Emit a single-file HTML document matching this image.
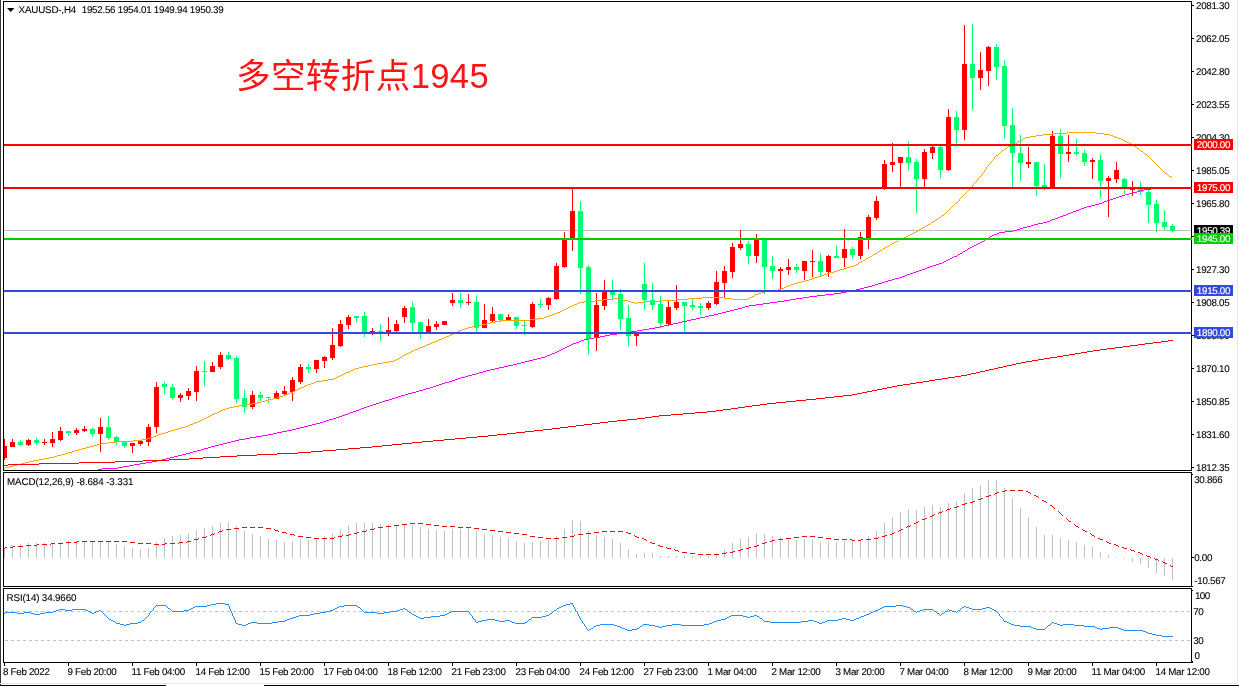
<!DOCTYPE html>
<html><head><meta charset="utf-8"><title>XAUUSD H4</title>
<style>
html,body{margin:0;padding:0;background:#fff}
#c{position:relative;width:1239px;height:686px;overflow:hidden;background:#fff;font-family:"Liberation Sans","Noto Sans CJK SC",sans-serif}
svg{position:absolute;left:0;top:0}
.t{position:absolute;font-size:9.8px;letter-spacing:-0.3px;line-height:11px;color:#000;-webkit-text-stroke:0.1px #000;white-space:pre;text-rendering:geometricPrecision}
.b{position:absolute;left:1194px;width:39px;height:10px;padding-top:1px;font-size:9.8px;letter-spacing:-0.3px;line-height:11px;color:#fff;-webkit-text-stroke:0.15px #fff;text-align:center;white-space:pre;text-rendering:geometricPrecision;overflow:hidden}
#title{position:absolute;left:236px;top:51px;font-size:34.6px;letter-spacing:0.35px;line-height:50px;color:#ff1414;font-weight:400;white-space:pre}
</style></head><body>
<div id="c">
<svg width="1239" height="686" viewBox="0 0 1239 686" shape-rendering="crispEdges">
<defs><clipPath id="cm"><rect x="4" y="2" width="1187" height="468"/></clipPath></defs>
<rect x="0" y="0" width="1" height="686" fill="#3a3a3a"/>
<rect x="3" y="1" width="1189" height="1" fill="#000"/>
<rect x="3" y="1" width="1" height="662" fill="#000"/>
<rect x="1191" y="1" width="1" height="662" fill="#000"/>
<rect x="3" y="470" width="1189" height="1" fill="#000"/>
<rect x="3" y="472" width="1189" height="1" fill="#000"/>
<rect x="3" y="586" width="1189" height="1" fill="#000"/>
<rect x="3" y="588" width="1189" height="1" fill="#000"/>
<rect x="3" y="662" width="1190" height="1" fill="#000"/>
<rect x="1237" y="0" width="1" height="684" fill="#e6e6e6"/>
<rect x="0" y="683" width="1238" height="1" fill="#e6e6e6"/>
<rect x="0" y="685" width="166" height="1" fill="#000"/>
<rect x="264" y="685" width="975" height="1" fill="#000"/>
<rect x="0" y="471" width="1192" height="1" fill="#fff"/>
<rect x="0" y="587" width="1192" height="1" fill="#fff"/>
<rect x="0" y="471" width="1" height="1" fill="#3a3a3a"/>
<rect x="0" y="587" width="1" height="1" fill="#3a3a3a"/>
<rect x="3" y="471" width="1" height="1" fill="#fff"/>
<rect x="3" y="587" width="1" height="1" fill="#fff"/>
<rect x="4" y="230" width="1187" height="1" fill="#c0c0c0"/>
<g clip-path="url(#cm)">
<rect x="4" y="439" width="1" height="21" fill="#ff0000"/>
<rect x="2" y="446" width="5" height="12" fill="#ff0000"/>
<rect x="12" y="439" width="1" height="8" fill="#ff0000"/>
<rect x="10" y="442" width="5" height="5" fill="#ff0000"/>
<rect x="20" y="440" width="1" height="6" fill="#00ff6e"/>
<rect x="18" y="442" width="5" height="3" fill="#00ff6e"/>
<rect x="28" y="439" width="1" height="7" fill="#ff0000"/>
<rect x="26" y="440" width="5" height="5" fill="#ff0000"/>
<rect x="36" y="438" width="1" height="7" fill="#00ff6e"/>
<rect x="34" y="440" width="5" height="3" fill="#00ff6e"/>
<rect x="44" y="439" width="1" height="6" fill="#ff0000"/>
<rect x="42" y="442" width="5" height="1" fill="#ff0000"/>
<rect x="52" y="432" width="1" height="15" fill="#ff0000"/>
<rect x="50" y="439" width="5" height="4" fill="#ff0000"/>
<rect x="60" y="427" width="1" height="14" fill="#ff0000"/>
<rect x="58" y="431" width="5" height="9" fill="#ff0000"/>
<rect x="68" y="431" width="1" height="5" fill="#00ff6e"/>
<rect x="66" y="431" width="5" height="2" fill="#00ff6e"/>
<rect x="76" y="428" width="1" height="7" fill="#ff0000"/>
<rect x="74" y="430" width="5" height="3" fill="#ff0000"/>
<rect x="84" y="426" width="1" height="6" fill="#ff0000"/>
<rect x="82" y="429" width="5" height="2" fill="#ff0000"/>
<rect x="92" y="428" width="1" height="9" fill="#00ff6e"/>
<rect x="90" y="429" width="5" height="5" fill="#00ff6e"/>
<rect x="100" y="418" width="1" height="34" fill="#ff0000"/>
<rect x="98" y="427" width="5" height="7" fill="#ff0000"/>
<rect x="108" y="416" width="1" height="24" fill="#00ff6e"/>
<rect x="106" y="427" width="5" height="11" fill="#00ff6e"/>
<rect x="116" y="436" width="1" height="9" fill="#00ff6e"/>
<rect x="114" y="437" width="5" height="5" fill="#00ff6e"/>
<rect x="124" y="442" width="1" height="6" fill="#00ff6e"/>
<rect x="122" y="442" width="5" height="4" fill="#00ff6e"/>
<rect x="132" y="443" width="1" height="10" fill="#ff0000"/>
<rect x="130" y="443" width="5" height="3" fill="#ff0000"/>
<rect x="140" y="441" width="1" height="5" fill="#ff0000"/>
<rect x="138" y="441" width="5" height="3" fill="#ff0000"/>
<rect x="148" y="424" width="1" height="22" fill="#ff0000"/>
<rect x="146" y="427" width="5" height="15" fill="#ff0000"/>
<rect x="156" y="382" width="1" height="51" fill="#ff0000"/>
<rect x="154" y="387" width="5" height="40" fill="#ff0000"/>
<rect x="164" y="382" width="1" height="12" fill="#00ff6e"/>
<rect x="162" y="384" width="5" height="3" fill="#00ff6e"/>
<rect x="172" y="384" width="1" height="16" fill="#00ff6e"/>
<rect x="170" y="387" width="5" height="11" fill="#00ff6e"/>
<rect x="180" y="393" width="1" height="9" fill="#ff0000"/>
<rect x="178" y="395" width="5" height="3" fill="#ff0000"/>
<rect x="188" y="388" width="1" height="12" fill="#ff0000"/>
<rect x="186" y="391" width="5" height="5" fill="#ff0000"/>
<rect x="196" y="366" width="1" height="35" fill="#ff0000"/>
<rect x="194" y="371" width="5" height="21" fill="#ff0000"/>
<rect x="204" y="361" width="1" height="25" fill="#00ff6e"/>
<rect x="202" y="371" width="5" height="1" fill="#00ff6e"/>
<rect x="212" y="362" width="1" height="10" fill="#ff0000"/>
<rect x="210" y="366" width="5" height="6" fill="#ff0000"/>
<rect x="220" y="352" width="1" height="17" fill="#ff0000"/>
<rect x="218" y="355" width="5" height="12" fill="#ff0000"/>
<rect x="228" y="352" width="1" height="8" fill="#00ff6e"/>
<rect x="226" y="355" width="5" height="4" fill="#00ff6e"/>
<rect x="236" y="356" width="1" height="47" fill="#00ff6e"/>
<rect x="234" y="358" width="5" height="41" fill="#00ff6e"/>
<rect x="244" y="390" width="1" height="23" fill="#00ff6e"/>
<rect x="242" y="398" width="5" height="9" fill="#00ff6e"/>
<rect x="252" y="391" width="1" height="18" fill="#ff0000"/>
<rect x="250" y="395" width="5" height="12" fill="#ff0000"/>
<rect x="260" y="392" width="1" height="9" fill="#00ff6e"/>
<rect x="258" y="395" width="5" height="3" fill="#00ff6e"/>
<rect x="268" y="397" width="1" height="6" fill="#00ff6e"/>
<rect x="266" y="397" width="5" height="1" fill="#00ff6e"/>
<rect x="276" y="391" width="1" height="8" fill="#ff0000"/>
<rect x="274" y="393" width="5" height="6" fill="#ff0000"/>
<rect x="284" y="386" width="1" height="10" fill="#ff0000"/>
<rect x="282" y="391" width="5" height="3" fill="#ff0000"/>
<rect x="292" y="377" width="1" height="24" fill="#ff0000"/>
<rect x="290" y="380" width="5" height="12" fill="#ff0000"/>
<rect x="300" y="364" width="1" height="20" fill="#ff0000"/>
<rect x="298" y="367" width="5" height="15" fill="#ff0000"/>
<rect x="308" y="364" width="1" height="9" fill="#00ff6e"/>
<rect x="306" y="367" width="5" height="2" fill="#00ff6e"/>
<rect x="316" y="360" width="1" height="13" fill="#ff0000"/>
<rect x="314" y="360" width="5" height="9" fill="#ff0000"/>
<rect x="324" y="356" width="1" height="12" fill="#ff0000"/>
<rect x="322" y="357" width="5" height="4" fill="#ff0000"/>
<rect x="332" y="328" width="1" height="32" fill="#ff0000"/>
<rect x="330" y="345" width="5" height="13" fill="#ff0000"/>
<rect x="340" y="320" width="1" height="27" fill="#ff0000"/>
<rect x="338" y="324" width="5" height="22" fill="#ff0000"/>
<rect x="348" y="315" width="1" height="14" fill="#ff0000"/>
<rect x="346" y="317" width="5" height="8" fill="#ff0000"/>
<rect x="356" y="316" width="1" height="6" fill="#00ff6e"/>
<rect x="354" y="316" width="5" height="2" fill="#00ff6e"/>
<rect x="364" y="312" width="1" height="25" fill="#00ff6e"/>
<rect x="362" y="316" width="5" height="16" fill="#00ff6e"/>
<rect x="372" y="328" width="1" height="7" fill="#ff0000"/>
<rect x="370" y="331" width="5" height="1" fill="#ff0000"/>
<rect x="380" y="324" width="1" height="17" fill="#00ff6e"/>
<rect x="378" y="331" width="5" height="1" fill="#00ff6e"/>
<rect x="388" y="317" width="1" height="19" fill="#ff0000"/>
<rect x="386" y="330" width="5" height="2" fill="#ff0000"/>
<rect x="396" y="320" width="1" height="12" fill="#ff0000"/>
<rect x="394" y="324" width="5" height="7" fill="#ff0000"/>
<rect x="404" y="306" width="1" height="17" fill="#ff0000"/>
<rect x="402" y="308" width="5" height="9" fill="#ff0000"/>
<rect x="412" y="302" width="1" height="30" fill="#00ff6e"/>
<rect x="410" y="307" width="5" height="16" fill="#00ff6e"/>
<rect x="420" y="322" width="1" height="17" fill="#00ff6e"/>
<rect x="418" y="322" width="5" height="10" fill="#00ff6e"/>
<rect x="428" y="319" width="1" height="13" fill="#ff0000"/>
<rect x="426" y="326" width="5" height="6" fill="#ff0000"/>
<rect x="436" y="321" width="1" height="9" fill="#ff0000"/>
<rect x="434" y="324" width="5" height="3" fill="#ff0000"/>
<rect x="444" y="321" width="1" height="4" fill="#ff0000"/>
<rect x="442" y="321" width="5" height="4" fill="#ff0000"/>
<rect x="452" y="293" width="1" height="13" fill="#ff0000"/>
<rect x="450" y="300" width="5" height="3" fill="#ff0000"/>
<rect x="460" y="293" width="1" height="15" fill="#00ff6e"/>
<rect x="458" y="300" width="5" height="3" fill="#00ff6e"/>
<rect x="468" y="294" width="1" height="11" fill="#ff0000"/>
<rect x="466" y="302" width="5" height="1" fill="#ff0000"/>
<rect x="476" y="296" width="1" height="36" fill="#00ff6e"/>
<rect x="474" y="302" width="5" height="26" fill="#00ff6e"/>
<rect x="484" y="304" width="1" height="24" fill="#ff0000"/>
<rect x="482" y="320" width="5" height="8" fill="#ff0000"/>
<rect x="492" y="307" width="1" height="16" fill="#ff0000"/>
<rect x="490" y="314" width="5" height="7" fill="#ff0000"/>
<rect x="500" y="314" width="1" height="8" fill="#00ff6e"/>
<rect x="498" y="314" width="5" height="6" fill="#00ff6e"/>
<rect x="508" y="314" width="1" height="6" fill="#ff0000"/>
<rect x="506" y="317" width="5" height="3" fill="#ff0000"/>
<rect x="516" y="317" width="1" height="12" fill="#00ff6e"/>
<rect x="514" y="317" width="5" height="9" fill="#00ff6e"/>
<rect x="524" y="321" width="1" height="14" fill="#00ff6e"/>
<rect x="522" y="325" width="5" height="1" fill="#00ff6e"/>
<rect x="532" y="302" width="1" height="26" fill="#ff0000"/>
<rect x="530" y="304" width="5" height="23" fill="#ff0000"/>
<rect x="540" y="299" width="1" height="9" fill="#00ff6e"/>
<rect x="538" y="304" width="5" height="1" fill="#00ff6e"/>
<rect x="548" y="297" width="1" height="13" fill="#ff0000"/>
<rect x="546" y="298" width="5" height="7" fill="#ff0000"/>
<rect x="556" y="263" width="1" height="37" fill="#ff0000"/>
<rect x="554" y="266" width="5" height="33" fill="#ff0000"/>
<rect x="564" y="232" width="1" height="36" fill="#ff0000"/>
<rect x="562" y="239" width="5" height="28" fill="#ff0000"/>
<rect x="572" y="189" width="1" height="62" fill="#ff0000"/>
<rect x="570" y="211" width="5" height="27" fill="#ff0000"/>
<rect x="580" y="201" width="1" height="93" fill="#00ff6e"/>
<rect x="578" y="211" width="5" height="57" fill="#00ff6e"/>
<rect x="588" y="265" width="1" height="90" fill="#00ff6e"/>
<rect x="586" y="267" width="5" height="72" fill="#00ff6e"/>
<rect x="596" y="293" width="1" height="58" fill="#ff0000"/>
<rect x="594" y="305" width="5" height="33" fill="#ff0000"/>
<rect x="604" y="280" width="1" height="30" fill="#ff0000"/>
<rect x="602" y="292" width="5" height="14" fill="#ff0000"/>
<rect x="612" y="280" width="1" height="19" fill="#00ff6e"/>
<rect x="610" y="292" width="5" height="3" fill="#00ff6e"/>
<rect x="620" y="289" width="1" height="41" fill="#00ff6e"/>
<rect x="618" y="294" width="5" height="25" fill="#00ff6e"/>
<rect x="628" y="305" width="1" height="41" fill="#00ff6e"/>
<rect x="626" y="318" width="5" height="18" fill="#00ff6e"/>
<rect x="636" y="333" width="1" height="13" fill="#ff0000"/>
<rect x="634" y="333" width="5" height="3" fill="#ff0000"/>
<rect x="644" y="263" width="1" height="47" fill="#00ff6e"/>
<rect x="642" y="284" width="5" height="16" fill="#00ff6e"/>
<rect x="652" y="283" width="1" height="27" fill="#00ff6e"/>
<rect x="650" y="300" width="5" height="5" fill="#00ff6e"/>
<rect x="660" y="296" width="1" height="32" fill="#00ff6e"/>
<rect x="658" y="304" width="5" height="19" fill="#00ff6e"/>
<rect x="668" y="301" width="1" height="25" fill="#ff0000"/>
<rect x="666" y="307" width="5" height="17" fill="#ff0000"/>
<rect x="676" y="285" width="1" height="25" fill="#ff0000"/>
<rect x="674" y="302" width="5" height="6" fill="#ff0000"/>
<rect x="684" y="302" width="1" height="30" fill="#00ff6e"/>
<rect x="682" y="302" width="5" height="4" fill="#00ff6e"/>
<rect x="692" y="299" width="1" height="11" fill="#00ff6e"/>
<rect x="690" y="305" width="5" height="2" fill="#00ff6e"/>
<rect x="700" y="303" width="1" height="12" fill="#00ff6e"/>
<rect x="698" y="306" width="5" height="2" fill="#00ff6e"/>
<rect x="708" y="301" width="1" height="9" fill="#ff0000"/>
<rect x="706" y="303" width="5" height="5" fill="#ff0000"/>
<rect x="716" y="271" width="1" height="34" fill="#ff0000"/>
<rect x="714" y="282" width="5" height="22" fill="#ff0000"/>
<rect x="724" y="266" width="1" height="31" fill="#ff0000"/>
<rect x="722" y="271" width="5" height="12" fill="#ff0000"/>
<rect x="732" y="243" width="1" height="35" fill="#ff0000"/>
<rect x="730" y="247" width="5" height="25" fill="#ff0000"/>
<rect x="740" y="230" width="1" height="20" fill="#ff0000"/>
<rect x="738" y="244" width="5" height="4" fill="#ff0000"/>
<rect x="748" y="241" width="1" height="23" fill="#00ff6e"/>
<rect x="746" y="244" width="5" height="12" fill="#00ff6e"/>
<rect x="756" y="234" width="1" height="29" fill="#ff0000"/>
<rect x="754" y="239" width="5" height="17" fill="#ff0000"/>
<rect x="764" y="239" width="1" height="55" fill="#00ff6e"/>
<rect x="762" y="239" width="5" height="28" fill="#00ff6e"/>
<rect x="772" y="256" width="1" height="23" fill="#00ff6e"/>
<rect x="770" y="266" width="5" height="5" fill="#00ff6e"/>
<rect x="780" y="267" width="1" height="23" fill="#ff0000"/>
<rect x="778" y="269" width="5" height="2" fill="#ff0000"/>
<rect x="788" y="259" width="1" height="16" fill="#ff0000"/>
<rect x="786" y="267" width="5" height="3" fill="#ff0000"/>
<rect x="796" y="264" width="1" height="9" fill="#00ff6e"/>
<rect x="794" y="267" width="5" height="3" fill="#00ff6e"/>
<rect x="804" y="261" width="1" height="19" fill="#ff0000"/>
<rect x="802" y="261" width="5" height="10" fill="#ff0000"/>
<rect x="812" y="250" width="1" height="27" fill="#ff0000"/>
<rect x="810" y="261" width="5" height="1" fill="#ff0000"/>
<rect x="820" y="253" width="1" height="23" fill="#00ff6e"/>
<rect x="818" y="261" width="5" height="11" fill="#00ff6e"/>
<rect x="828" y="255" width="1" height="22" fill="#ff0000"/>
<rect x="826" y="256" width="5" height="16" fill="#ff0000"/>
<rect x="836" y="246" width="1" height="12" fill="#00ff6e"/>
<rect x="834" y="256" width="5" height="2" fill="#00ff6e"/>
<rect x="844" y="229" width="1" height="38" fill="#ff0000"/>
<rect x="842" y="249" width="5" height="9" fill="#ff0000"/>
<rect x="852" y="247" width="1" height="12" fill="#00ff6e"/>
<rect x="850" y="249" width="5" height="6" fill="#00ff6e"/>
<rect x="860" y="232" width="1" height="27" fill="#ff0000"/>
<rect x="858" y="237" width="5" height="19" fill="#ff0000"/>
<rect x="868" y="215" width="1" height="34" fill="#ff0000"/>
<rect x="866" y="217" width="5" height="21" fill="#ff0000"/>
<rect x="876" y="196" width="1" height="24" fill="#ff0000"/>
<rect x="874" y="201" width="5" height="17" fill="#ff0000"/>
<rect x="884" y="160" width="1" height="30" fill="#ff0000"/>
<rect x="882" y="164" width="5" height="25" fill="#ff0000"/>
<rect x="892" y="143" width="1" height="29" fill="#ff0000"/>
<rect x="890" y="162" width="5" height="3" fill="#ff0000"/>
<rect x="900" y="157" width="1" height="31" fill="#ff0000"/>
<rect x="898" y="157" width="5" height="6" fill="#ff0000"/>
<rect x="908" y="141" width="1" height="29" fill="#00ff6e"/>
<rect x="906" y="157" width="5" height="6" fill="#00ff6e"/>
<rect x="916" y="159" width="1" height="54" fill="#00ff6e"/>
<rect x="914" y="162" width="5" height="17" fill="#00ff6e"/>
<rect x="924" y="149" width="1" height="39" fill="#ff0000"/>
<rect x="922" y="152" width="5" height="27" fill="#ff0000"/>
<rect x="932" y="146" width="1" height="13" fill="#ff0000"/>
<rect x="930" y="147" width="5" height="6" fill="#ff0000"/>
<rect x="940" y="146" width="1" height="32" fill="#00ff6e"/>
<rect x="938" y="147" width="5" height="23" fill="#00ff6e"/>
<rect x="948" y="109" width="1" height="62" fill="#ff0000"/>
<rect x="946" y="117" width="5" height="53" fill="#ff0000"/>
<rect x="956" y="111" width="1" height="36" fill="#00ff6e"/>
<rect x="954" y="117" width="5" height="13" fill="#00ff6e"/>
<rect x="964" y="25" width="1" height="115" fill="#ff0000"/>
<rect x="962" y="64" width="5" height="66" fill="#ff0000"/>
<rect x="972" y="24" width="1" height="86" fill="#00ff6e"/>
<rect x="970" y="64" width="5" height="14" fill="#00ff6e"/>
<rect x="980" y="52" width="1" height="38" fill="#ff0000"/>
<rect x="978" y="70" width="5" height="8" fill="#ff0000"/>
<rect x="988" y="46" width="1" height="40" fill="#ff0000"/>
<rect x="986" y="47" width="5" height="24" fill="#ff0000"/>
<rect x="996" y="44" width="1" height="36" fill="#00ff6e"/>
<rect x="994" y="47" width="5" height="20" fill="#00ff6e"/>
<rect x="1004" y="60" width="1" height="79" fill="#00ff6e"/>
<rect x="1002" y="66" width="5" height="60" fill="#00ff6e"/>
<rect x="1012" y="108" width="1" height="79" fill="#00ff6e"/>
<rect x="1010" y="125" width="5" height="28" fill="#00ff6e"/>
<rect x="1020" y="135" width="1" height="46" fill="#00ff6e"/>
<rect x="1018" y="153" width="5" height="10" fill="#00ff6e"/>
<rect x="1028" y="147" width="1" height="21" fill="#ff0000"/>
<rect x="1026" y="162" width="5" height="2" fill="#ff0000"/>
<rect x="1036" y="162" width="1" height="34" fill="#00ff6e"/>
<rect x="1034" y="162" width="5" height="24" fill="#00ff6e"/>
<rect x="1044" y="164" width="1" height="26" fill="#00ff6e"/>
<rect x="1042" y="185" width="5" height="2" fill="#00ff6e"/>
<rect x="1052" y="131" width="1" height="56" fill="#ff0000"/>
<rect x="1050" y="136" width="5" height="51" fill="#ff0000"/>
<rect x="1060" y="129" width="1" height="49" fill="#00ff6e"/>
<rect x="1058" y="136" width="5" height="18" fill="#00ff6e"/>
<rect x="1068" y="135" width="1" height="27" fill="#ff0000"/>
<rect x="1066" y="152" width="5" height="2" fill="#ff0000"/>
<rect x="1076" y="139" width="1" height="17" fill="#00ff6e"/>
<rect x="1074" y="152" width="5" height="2" fill="#00ff6e"/>
<rect x="1084" y="150" width="1" height="16" fill="#00ff6e"/>
<rect x="1082" y="153" width="5" height="9" fill="#00ff6e"/>
<rect x="1092" y="158" width="1" height="21" fill="#ff0000"/>
<rect x="1090" y="160" width="5" height="2" fill="#ff0000"/>
<rect x="1100" y="154" width="1" height="44" fill="#00ff6e"/>
<rect x="1098" y="160" width="5" height="21" fill="#00ff6e"/>
<rect x="1108" y="176" width="1" height="41" fill="#ff0000"/>
<rect x="1106" y="178" width="5" height="3" fill="#ff0000"/>
<rect x="1116" y="162" width="1" height="21" fill="#ff0000"/>
<rect x="1114" y="170" width="5" height="9" fill="#ff0000"/>
<rect x="1124" y="178" width="1" height="16" fill="#00ff6e"/>
<rect x="1122" y="179" width="5" height="10" fill="#00ff6e"/>
<rect x="1132" y="181" width="1" height="15" fill="#ff0000"/>
<rect x="1130" y="187" width="5" height="3" fill="#ff0000"/>
<rect x="1140" y="182" width="1" height="13" fill="#00ff6e"/>
<rect x="1138" y="188" width="5" height="4" fill="#00ff6e"/>
<rect x="1148" y="190" width="1" height="33" fill="#00ff6e"/>
<rect x="1146" y="192" width="5" height="13" fill="#00ff6e"/>
<rect x="1156" y="200" width="1" height="32" fill="#00ff6e"/>
<rect x="1154" y="204" width="5" height="19" fill="#00ff6e"/>
<rect x="1164" y="210" width="1" height="20" fill="#00ff6e"/>
<rect x="1162" y="222" width="5" height="5" fill="#00ff6e"/>
<rect x="1172" y="224" width="1" height="8" fill="#00ff6e"/>
<rect x="1170" y="226" width="5" height="5" fill="#00ff6e"/>
</g>
<g clip-path="url(#cm)">
<path d="M3 468h2v1h-2zM5 467h4v1h-4zM9 466h4v1h-4zM13 465h4v1h-4zM17 464h4v1h-4zM21 463h4v1h-4zM25 462h4v1h-4zM29 461h5v1h-5zM34 460h5v1h-5zM39 459h5v1h-5zM44 458h5v1h-5zM49 457h5v1h-5zM54 456h3v1h-3zM57 455h4v1h-4zM61 454h4v1h-4zM65 453h3v1h-3zM68 452h4v1h-4zM72 451h3v1h-3zM75 450h4v1h-4zM79 449h3v1h-3zM82 448h4v1h-4zM86 447h4v1h-4zM90 446h3v1h-3zM93 445h4v1h-4zM97 444h4v1h-4zM101 443h7v1h-7zM108 442h9v1h-9zM117 441h16v1h-16zM133 440h9v1h-9zM142 439h5v1h-5zM147 438h3v1h-3zM150 437h3v1h-3zM153 436h3v1h-3zM156 435h2v1h-2zM158 434h3v1h-3zM161 433h4v1h-4zM165 432h3v1h-3zM168 431h3v1h-3zM171 430h4v1h-4zM175 429h3v1h-3zM178 428h3v1h-3zM181 427h4v1h-4zM185 426h3v1h-3zM188 425h2v1h-2zM190 424h3v1h-3zM193 423h2v1h-2zM195 422h3v1h-3zM198 421h2v1h-2zM200 420h2v1h-2zM202 419h2v1h-2zM204 418h2v1h-2zM206 417h2v1h-2zM208 416h2v1h-2zM210 415h2v1h-2zM212 414h2v1h-2zM214 413h3v1h-3zM217 412h2v1h-2zM219 411h2v1h-2zM221 410h2v1h-2zM223 409h3v1h-3zM226 408h3v1h-3zM229 407h5v1h-5zM234 406h5v1h-5zM239 405h6v1h-6zM245 404h7v1h-7zM252 403h5v1h-5zM257 402h4v1h-4zM261 401h4v1h-4zM265 400h4v1h-4zM269 399h4v1h-4zM273 398h4v1h-4zM277 397h3v1h-3zM280 396h3v1h-3zM283 395h2v1h-2zM285 394h3v1h-3zM288 393h2v1h-2zM290 392h3v1h-3zM293 391h2v1h-2zM295 390h2v1h-2zM297 389h2v1h-2zM299 388h2v1h-2zM301 387h3v1h-3zM304 386h2v1h-2zM306 385h2v1h-2zM308 384h3v1h-3zM311 383h3v1h-3zM314 382h2v1h-2zM316 381h6v1h-6zM322 380h6v1h-6zM328 379h6v1h-6zM334 378h2v1h-2zM336 377h2v1h-2zM338 376h2v1h-2zM340 375h2v1h-2zM342 374h2v1h-2zM344 373h2v1h-2zM346 372h3v1h-3zM349 371h2v1h-2zM351 370h2v1h-2zM353 369h2v1h-2zM355 368h4v1h-4zM359 367h4v1h-4zM363 366h5v1h-5zM368 365h4v1h-4zM372 364h5v1h-5zM377 363h6v1h-6zM383 362h6v1h-6zM389 361h5v1h-5zM394 360h2v1h-2zM396 359h2v1h-2zM398 358h2v1h-2zM400 357h2v1h-2zM402 356h1v1h-1zM403 355h2v1h-2zM405 354h2v1h-2zM407 353h2v1h-2zM409 352h2v1h-2zM411 351h2v1h-2zM413 350h2v1h-2zM415 349h3v1h-3zM418 348h2v1h-2zM420 347h3v1h-3zM423 346h2v1h-2zM425 345h2v1h-2zM427 344h3v1h-3zM430 343h2v1h-2zM432 342h3v1h-3zM435 341h2v1h-2zM437 340h2v1h-2zM439 339h3v1h-3zM442 338h2v1h-2zM444 337h2v1h-2zM446 336h3v1h-3zM449 335h2v1h-2zM451 334h2v1h-2zM453 333h2v1h-2zM455 332h2v1h-2zM457 331h2v1h-2zM459 330h3v1h-3zM462 329h3v1h-3zM465 328h3v1h-3zM468 327h4v1h-4zM472 326h4v1h-4zM476 325h5v1h-5zM481 324h5v1h-5zM486 323h4v1h-4zM490 322h5v1h-5zM495 321h5v1h-5zM500 320h30v1h-30zM530 319h7v1h-7zM537 318h7v1h-7zM544 317h2v1h-2zM546 316h3v1h-3zM549 315h3v1h-3zM552 314h3v1h-3zM555 313h2v1h-2zM557 312h3v1h-3zM560 311h2v1h-2zM562 310h2v1h-2zM564 309h2v1h-2zM566 308h2v1h-2zM568 307h2v1h-2zM570 306h2v1h-2zM572 305h2v1h-2zM574 304h3v1h-3zM577 303h2v1h-2zM579 302h5v1h-5zM584 301h11v1h-11zM595 300h8v1h-8zM603 299h11v1h-11zM614 298h5v1h-5zM619 299h4v1h-4zM623 300h5v1h-5zM628 301h3v1h-3zM631 302h4v1h-4zM635 303h2v1h-2zM637 302h7v1h-7zM644 301h18v1h-18zM662 300h14v1h-14zM676 299h13v1h-13zM689 298h13v1h-13zM702 297h23v1h-23zM725 298h7v1h-7zM732 299h16v1h-16zM748 298h2v1h-2zM750 297h2v1h-2zM752 296h2v1h-2zM754 295h1v1h-1zM755 294h3v1h-3zM758 293h3v1h-3zM761 292h3v1h-3zM764 291h7v1h-7zM771 290h7v1h-7zM778 289h3v1h-3zM781 288h3v1h-3zM784 287h2v1h-2zM786 286h3v1h-3zM789 285h2v1h-2zM791 284h3v1h-3zM794 283h3v1h-3zM797 282h4v1h-4zM801 281h4v1h-4zM805 280h4v1h-4zM809 279h3v1h-3zM812 278h3v1h-3zM815 277h3v1h-3zM818 276h3v1h-3zM821 275h3v1h-3zM824 274h3v1h-3zM827 273h3v1h-3zM830 272h4v1h-4zM834 271h3v1h-3zM837 270h3v1h-3zM840 269h4v1h-4zM844 268h3v1h-3zM847 267h3v1h-3zM850 266h4v1h-4zM854 265h2v1h-2zM856 264h2v1h-2zM858 263h1v1h-1zM859 262h2v1h-2zM861 261h2v1h-2zM863 260h2v1h-2zM865 259h1v1h-1zM866 258h2v1h-2zM868 257h2v1h-2zM870 256h2v1h-2zM872 255h1v1h-1zM873 254h2v1h-2zM875 253h2v1h-2zM877 252h1v1h-1zM878 251h2v1h-2zM880 250h2v1h-2zM882 249h1v1h-1zM883 248h2v1h-2zM885 247h2v1h-2zM887 246h2v1h-2zM889 245h1v1h-1zM890 244h2v1h-2zM892 243h2v1h-2zM894 242h2v1h-2zM896 241h2v1h-2zM898 240h1v1h-1zM899 239h2v1h-2zM901 238h3v1h-3zM904 237h2v1h-2zM906 236h2v1h-2zM908 235h2v1h-2zM910 234h2v1h-2zM912 233h2v1h-2zM914 232h2v1h-2zM916 231h2v1h-2zM918 230h1v1h-1zM919 229h2v1h-2zM921 228h2v1h-2zM923 227h2v1h-2zM925 226h1v1h-1zM926 225h2v1h-2zM928 224h2v1h-2zM930 223h1v1h-1zM931 222h2v1h-2zM933 221h2v1h-2zM935 220h1v1h-1zM936 219h2v1h-2zM938 218h1v1h-1zM939 217h2v1h-2zM941 216h1v1h-1zM942 215h2v1h-2zM944 214h1v1h-1zM945 213h1v1h-1zM946 212h1v1h-1zM947 211h1v1h-1zM948 210h1v1h-1zM949 209h1v1h-1zM950 208h1v1h-1zM951 207h1v1h-1zM952 206h1v1h-1zM953 205h1v1h-1zM954 204h1v1h-1zM955 203h1v1h-1zM956 202h2v1h-2zM958 201h1v1h-1zM959 199h1v2h-1zM960 198h1v1h-1zM961 197h1v1h-1zM962 196h1v1h-1zM963 195h1v1h-1zM964 194h1v1h-1zM965 193h1v1h-1zM966 192h1v1h-1zM967 191h1v1h-1zM968 190h1v1h-1zM969 189h1v1h-1zM970 188h1v1h-1zM971 187h1v1h-1zM972 185h1v2h-1zM973 184h1v1h-1zM974 183h1v1h-1zM975 182h1v1h-1zM976 181h1v1h-1zM977 179h1v2h-1zM978 178h1v1h-1zM979 177h1v1h-1zM980 176h1v1h-1zM981 175h1v1h-1zM982 173h1v2h-1zM983 172h1v1h-1zM984 170h1v2h-1zM985 169h1v1h-1zM986 167h1v2h-1zM987 166h1v1h-1zM988 165h1v1h-1zM989 164h1v1h-1zM990 162h1v2h-1zM991 161h1v1h-1zM992 160h1v1h-1zM993 159h1v1h-1zM994 157h1v2h-1zM995 156h1v1h-1zM996 155h2v1h-2zM998 154h1v1h-1zM999 153h1v1h-1zM1000 152h1v1h-1zM1001 151h1v1h-1zM1002 150h2v1h-2zM1004 149h1v1h-1zM1005 148h2v1h-2zM1007 147h1v1h-1zM1008 146h2v1h-2zM1010 145h3v1h-3zM1013 144h2v1h-2zM1015 143h2v1h-2zM1017 142h1v1h-1zM1018 141h2v1h-2zM1020 140h2v1h-2zM1022 139h1v1h-1zM1023 138h2v1h-2zM1025 137h5v1h-5zM1030 136h6v1h-6zM1036 135h7v1h-7zM1043 134h9v1h-9zM1052 133h15v1h-15zM1067 132h29v1h-29zM1096 133h8v1h-8zM1104 134h6v1h-6zM1110 135h3v1h-3zM1113 136h2v1h-2zM1115 137h3v1h-3zM1118 138h3v1h-3zM1121 139h2v1h-2zM1123 140h2v1h-2zM1125 141h2v1h-2zM1127 142h2v1h-2zM1129 143h2v1h-2zM1131 144h2v1h-2zM1133 145h1v1h-1zM1134 146h2v1h-2zM1136 147h1v1h-1zM1137 148h2v1h-2zM1139 149h1v1h-1zM1140 150h1v1h-1zM1141 151h2v1h-2zM1143 152h1v1h-1zM1144 153h1v1h-1zM1145 154h2v1h-2zM1147 155h1v1h-1zM1148 156h1v1h-1zM1149 157h1v1h-1zM1150 158h1v1h-1zM1151 159h1v1h-1zM1152 160h1v1h-1zM1153 161h1v1h-1zM1154 162h1v1h-1zM1155 163h1v1h-1zM1156 164h1v1h-1zM1157 165h1v1h-1zM1158 166h1v1h-1zM1159 167h1v1h-1zM1160 168h1v1h-1zM1161 169h1v1h-1zM1162 170h1v1h-1zM1163 171h1v1h-1zM1164 172h1v1h-1zM1165 173h2v1h-2zM1167 174h1v1h-1zM1168 175h1v1h-1zM1169 176h2v1h-2zM1171 177h1v1h-1z" fill="#ffa500"/>
<path d="M98 469h4v1h-4zM102 468h16v1h-16zM118 467h5v1h-5zM123 466h6v1h-6zM129 465h5v1h-5zM134 464h6v1h-6zM140 463h6v1h-6zM146 462h6v1h-6zM152 461h5v1h-5zM157 460h5v1h-5zM162 459h4v1h-4zM166 458h4v1h-4zM170 457h4v1h-4zM174 456h4v1h-4zM178 455h4v1h-4zM182 454h4v1h-4zM186 453h4v1h-4zM190 452h3v1h-3zM193 451h4v1h-4zM197 450h4v1h-4zM201 449h3v1h-3zM204 448h4v1h-4zM208 447h3v1h-3zM211 446h4v1h-4zM215 445h4v1h-4zM219 444h4v1h-4zM223 443h4v1h-4zM227 442h4v1h-4zM231 441h4v1h-4zM235 440h4v1h-4zM239 439h6v1h-6zM245 438h5v1h-5zM250 437h6v1h-6zM256 436h6v1h-6zM262 435h6v1h-6zM268 434h5v1h-5zM273 433h4v1h-4zM277 432h5v1h-5zM282 431h5v1h-5zM287 430h5v1h-5zM292 429h4v1h-4zM296 428h4v1h-4zM300 427h4v1h-4zM304 426h4v1h-4zM308 425h4v1h-4zM312 424h4v1h-4zM316 423h4v1h-4zM320 422h3v1h-3zM323 421h3v1h-3zM326 420h3v1h-3zM329 419h4v1h-4zM333 418h3v1h-3zM336 417h3v1h-3zM339 416h3v1h-3zM342 415h3v1h-3zM345 414h3v1h-3zM348 413h2v1h-2zM350 412h3v1h-3zM353 411h3v1h-3zM356 410h3v1h-3zM359 409h2v1h-2zM361 408h3v1h-3zM364 407h3v1h-3zM367 406h3v1h-3zM370 405h3v1h-3zM373 404h3v1h-3zM376 403h3v1h-3zM379 402h3v1h-3zM382 401h3v1h-3zM385 400h4v1h-4zM389 399h3v1h-3zM392 398h3v1h-3zM395 397h3v1h-3zM398 396h3v1h-3zM401 395h4v1h-4zM405 394h3v1h-3zM408 393h4v1h-4zM412 392h4v1h-4zM416 391h3v1h-3zM419 390h4v1h-4zM423 389h3v1h-3zM426 388h4v1h-4zM430 387h3v1h-3zM433 386h3v1h-3zM436 385h3v1h-3zM439 384h3v1h-3zM442 383h3v1h-3zM445 382h4v1h-4zM449 381h3v1h-3zM452 380h3v1h-3zM455 379h3v1h-3zM458 378h3v1h-3zM461 377h4v1h-4zM465 376h3v1h-3zM468 375h4v1h-4zM472 374h4v1h-4zM476 373h3v1h-3zM479 372h4v1h-4zM483 371h3v1h-3zM486 370h4v1h-4zM490 369h5v1h-5zM495 368h4v1h-4zM499 367h5v1h-5zM504 366h4v1h-4zM508 365h5v1h-5zM513 364h4v1h-4zM517 363h4v1h-4zM521 362h4v1h-4zM525 361h4v1h-4zM529 360h4v1h-4zM533 359h4v1h-4zM537 358h4v1h-4zM541 357h4v1h-4zM545 356h2v1h-2zM547 355h3v1h-3zM550 354h2v1h-2zM552 353h3v1h-3zM555 352h2v1h-2zM557 351h2v1h-2zM559 350h2v1h-2zM561 349h2v1h-2zM563 348h2v1h-2zM565 347h2v1h-2zM567 346h2v1h-2zM569 345h2v1h-2zM571 344h2v1h-2zM573 343h3v1h-3zM576 342h3v1h-3zM579 341h2v1h-2zM581 340h3v1h-3zM584 339h5v1h-5zM589 338h5v1h-5zM594 337h6v1h-6zM600 336h5v1h-5zM605 335h5v1h-5zM610 334h7v1h-7zM617 333h7v1h-7zM624 332h7v1h-7zM631 331h6v1h-6zM637 330h6v1h-6zM643 329h6v1h-6zM649 328h6v1h-6zM655 327h5v1h-5zM660 326h4v1h-4zM664 325h5v1h-5zM669 324h4v1h-4zM673 323h5v1h-5zM678 322h4v1h-4zM682 321h5v1h-5zM687 320h4v1h-4zM691 319h5v1h-5zM696 318h4v1h-4zM700 317h5v1h-5zM705 316h4v1h-4zM709 315h5v1h-5zM714 314h4v1h-4zM718 313h4v1h-4zM722 312h4v1h-4zM726 311h4v1h-4zM730 310h4v1h-4zM734 309h4v1h-4zM738 308h4v1h-4zM742 307h3v1h-3zM745 306h4v1h-4zM749 305h7v1h-7zM756 304h7v1h-7zM763 303h7v1h-7zM770 302h7v1h-7zM777 301h7v1h-7zM784 300h6v1h-6zM790 299h6v1h-6zM796 298h7v1h-7zM803 297h6v1h-6zM809 296h8v1h-8zM817 295h8v1h-8zM825 294h9v1h-9zM834 293h7v1h-7zM841 292h5v1h-5zM846 291h5v1h-5zM851 290h5v1h-5zM856 289h4v1h-4zM860 288h4v1h-4zM864 287h4v1h-4zM868 286h4v1h-4zM872 285h3v1h-3zM875 284h3v1h-3zM878 283h4v1h-4zM882 282h3v1h-3zM885 281h3v1h-3zM888 280h4v1h-4zM892 279h3v1h-3zM895 278h4v1h-4zM899 277h3v1h-3zM902 276h3v1h-3zM905 275h2v1h-2zM907 274h3v1h-3zM910 273h3v1h-3zM913 272h3v1h-3zM916 271h3v1h-3zM919 270h3v1h-3zM922 269h3v1h-3zM925 268h2v1h-2zM927 267h3v1h-3zM930 266h3v1h-3zM933 265h3v1h-3zM936 264h3v1h-3zM939 263h3v1h-3zM942 262h2v1h-2zM944 261h2v1h-2zM946 260h2v1h-2zM948 259h2v1h-2zM950 258h2v1h-2zM952 257h2v1h-2zM954 256h3v1h-3zM957 255h1v1h-1zM958 254h2v1h-2zM960 253h2v1h-2zM962 252h1v1h-1zM963 251h2v1h-2zM965 250h2v1h-2zM967 249h1v1h-1zM968 248h2v1h-2zM970 247h2v1h-2zM972 246h2v1h-2zM974 245h2v1h-2zM976 244h2v1h-2zM978 243h2v1h-2zM980 242h2v1h-2zM982 241h2v1h-2zM984 240h1v1h-1zM985 239h2v1h-2zM987 238h2v1h-2zM989 237h1v1h-1zM990 236h2v1h-2zM992 235h2v1h-2zM994 234h3v1h-3zM997 233h2v1h-2zM999 232h6v1h-6zM1005 231h8v1h-8zM1013 230h4v1h-4zM1017 229h3v1h-3zM1020 228h3v1h-3zM1023 227h4v1h-4zM1027 226h4v1h-4zM1031 225h3v1h-3zM1034 224h4v1h-4zM1038 223h5v1h-5zM1043 222h4v1h-4zM1047 221h3v1h-3zM1050 220h2v1h-2zM1052 219h3v1h-3zM1055 218h3v1h-3zM1058 217h2v1h-2zM1060 216h3v1h-3zM1063 215h3v1h-3zM1066 214h2v1h-2zM1068 213h3v1h-3zM1071 212h2v1h-2zM1073 211h3v1h-3zM1076 210h3v1h-3zM1079 209h2v1h-2zM1081 208h3v1h-3zM1084 207h3v1h-3zM1087 206h4v1h-4zM1091 205h4v1h-4zM1095 204h4v1h-4zM1099 203h3v1h-3zM1102 202h2v1h-2zM1104 201h3v1h-3zM1107 200h3v1h-3zM1110 199h3v1h-3zM1113 198h3v1h-3zM1116 197h3v1h-3zM1119 196h3v1h-3zM1122 195h3v1h-3zM1125 194h4v1h-4zM1129 193h4v1h-4zM1133 192h4v1h-4zM1137 191h3v1h-3zM1140 190h4v1h-4zM1144 189h7v1h-7zM1151 188h1v1h-1z" fill="#ff00ff"/>
<path d="M4 465h4v1h-4zM8 464h31v1h-31zM39 463h40v1h-40zM79 462h36v1h-36zM115 461h28v1h-28zM143 460h26v1h-26zM169 459h20v1h-20zM189 458h14v1h-14zM203 457h17v1h-17zM220 456h17v1h-17zM237 455h20v1h-20zM257 454h20v1h-20zM277 453h21v1h-21zM298 452h13v1h-13zM311 451h12v1h-12zM323 450h13v1h-13zM336 449h12v1h-12zM348 448h12v1h-12zM360 447h12v1h-12zM372 446h10v1h-10zM382 445h10v1h-10zM392 444h10v1h-10zM402 443h10v1h-10zM412 442h10v1h-10zM422 441h11v1h-11zM433 440h11v1h-11zM444 439h11v1h-11zM455 438h11v1h-11zM466 437h11v1h-11zM477 436h11v1h-11zM488 435h9v1h-9zM497 434h10v1h-10zM507 433h9v1h-9zM516 432h9v1h-9zM525 431h9v1h-9zM534 430h9v1h-9zM543 429h9v1h-9zM552 428h8v1h-8zM560 427h8v1h-8zM568 426h8v1h-8zM576 425h8v1h-8zM584 424h8v1h-8zM592 423h8v1h-8zM600 422h8v1h-8zM608 421h9v1h-9zM617 420h10v1h-10zM627 419h10v1h-10zM637 418h8v1h-8zM645 417h7v1h-7zM652 416h7v1h-7zM659 415h12v1h-12zM671 414h12v1h-12zM683 413h12v1h-12zM695 412h12v1h-12zM707 411h9v1h-9zM716 410h7v1h-7zM723 409h8v1h-8zM731 408h7v1h-7zM738 407h7v1h-7zM745 406h7v1h-7zM752 405h8v1h-8zM760 404h7v1h-7zM767 403h9v1h-9zM776 402h10v1h-10zM786 401h10v1h-10zM796 400h10v1h-10zM806 399h10v1h-10zM816 398h9v1h-9zM825 397h9v1h-9zM834 396h9v1h-9zM843 395h9v1h-9zM852 394h5v1h-5zM857 393h5v1h-5zM862 392h5v1h-5zM867 391h5v1h-5zM872 390h5v1h-5zM877 389h5v1h-5zM882 388h5v1h-5zM887 387h5v1h-5zM892 386h5v1h-5zM897 385h6v1h-6zM903 384h7v1h-7zM910 383h6v1h-6zM916 382h7v1h-7zM923 381h6v1h-6zM929 380h6v1h-6zM935 379h7v1h-7zM942 378h6v1h-6zM948 377h7v1h-7zM955 376h6v1h-6zM961 375h6v1h-6zM967 374h4v1h-4zM971 373h5v1h-5zM976 372h4v1h-4zM980 371h5v1h-5zM985 370h4v1h-4zM989 369h5v1h-5zM994 368h4v1h-4zM998 367h5v1h-5zM1003 366h4v1h-4zM1007 365h5v1h-5zM1012 364h4v1h-4zM1016 363h5v1h-5zM1021 362h5v1h-5zM1026 361h6v1h-6zM1032 360h6v1h-6zM1038 359h6v1h-6zM1044 358h6v1h-6zM1050 357h7v1h-7zM1057 356h6v1h-6zM1063 355h6v1h-6zM1069 354h6v1h-6zM1075 353h6v1h-6zM1081 352h6v1h-6zM1087 351h6v1h-6zM1093 350h7v1h-7zM1100 349h7v1h-7zM1107 348h8v1h-8zM1115 347h8v1h-8zM1123 346h7v1h-7zM1130 345h8v1h-8zM1138 344h7v1h-7zM1145 343h8v1h-8zM1153 342h8v1h-8zM1161 341h7v1h-7zM1168 340h5v1h-5z" fill="#ff0000"/>
</g>
<rect x="4" y="144" width="1188" height="2" fill="#ff0000"/>
<rect x="4" y="187" width="1188" height="2" fill="#ff0000"/>
<rect x="4" y="238" width="1188" height="2" fill="#00cc00"/>
<rect x="4" y="290" width="1188" height="2" fill="#3349e0"/>
<rect x="4" y="332" width="1188" height="2" fill="#3349e0"/>
<rect x="4" y="548" width="1" height="10" fill="#c0c0c0"/>
<rect x="12" y="545" width="1" height="13" fill="#c0c0c0"/>
<rect x="20" y="544" width="1" height="14" fill="#c0c0c0"/>
<rect x="28" y="543" width="1" height="15" fill="#c0c0c0"/>
<rect x="36" y="543" width="1" height="15" fill="#c0c0c0"/>
<rect x="44" y="543" width="1" height="15" fill="#c0c0c0"/>
<rect x="52" y="543" width="1" height="15" fill="#c0c0c0"/>
<rect x="60" y="542" width="1" height="16" fill="#c0c0c0"/>
<rect x="68" y="541" width="1" height="17" fill="#c0c0c0"/>
<rect x="76" y="541" width="1" height="17" fill="#c0c0c0"/>
<rect x="84" y="541" width="1" height="17" fill="#c0c0c0"/>
<rect x="92" y="541" width="1" height="17" fill="#c0c0c0"/>
<rect x="100" y="541" width="1" height="17" fill="#c0c0c0"/>
<rect x="108" y="542" width="1" height="16" fill="#c0c0c0"/>
<rect x="116" y="544" width="1" height="14" fill="#c0c0c0"/>
<rect x="124" y="546" width="1" height="12" fill="#c0c0c0"/>
<rect x="132" y="548" width="1" height="10" fill="#c0c0c0"/>
<rect x="140" y="549" width="1" height="9" fill="#c0c0c0"/>
<rect x="148" y="548" width="1" height="10" fill="#c0c0c0"/>
<rect x="156" y="542" width="1" height="16" fill="#c0c0c0"/>
<rect x="164" y="538" width="1" height="20" fill="#c0c0c0"/>
<rect x="172" y="536" width="1" height="22" fill="#c0c0c0"/>
<rect x="180" y="535" width="1" height="23" fill="#c0c0c0"/>
<rect x="188" y="533" width="1" height="25" fill="#c0c0c0"/>
<rect x="196" y="530" width="1" height="28" fill="#c0c0c0"/>
<rect x="204" y="528" width="1" height="30" fill="#c0c0c0"/>
<rect x="212" y="526" width="1" height="32" fill="#c0c0c0"/>
<rect x="220" y="523" width="1" height="35" fill="#c0c0c0"/>
<rect x="228" y="522" width="1" height="36" fill="#c0c0c0"/>
<rect x="236" y="526" width="1" height="32" fill="#c0c0c0"/>
<rect x="244" y="531" width="1" height="27" fill="#c0c0c0"/>
<rect x="252" y="534" width="1" height="24" fill="#c0c0c0"/>
<rect x="260" y="536" width="1" height="22" fill="#c0c0c0"/>
<rect x="268" y="539" width="1" height="19" fill="#c0c0c0"/>
<rect x="276" y="540" width="1" height="18" fill="#c0c0c0"/>
<rect x="284" y="542" width="1" height="16" fill="#c0c0c0"/>
<rect x="292" y="541" width="1" height="17" fill="#c0c0c0"/>
<rect x="300" y="540" width="1" height="18" fill="#c0c0c0"/>
<rect x="308" y="539" width="1" height="19" fill="#c0c0c0"/>
<rect x="316" y="538" width="1" height="20" fill="#c0c0c0"/>
<rect x="324" y="536" width="1" height="22" fill="#c0c0c0"/>
<rect x="332" y="533" width="1" height="25" fill="#c0c0c0"/>
<rect x="340" y="529" width="1" height="29" fill="#c0c0c0"/>
<rect x="348" y="525" width="1" height="33" fill="#c0c0c0"/>
<rect x="356" y="523" width="1" height="35" fill="#c0c0c0"/>
<rect x="364" y="523" width="1" height="35" fill="#c0c0c0"/>
<rect x="372" y="523" width="1" height="35" fill="#c0c0c0"/>
<rect x="380" y="524" width="1" height="34" fill="#c0c0c0"/>
<rect x="388" y="525" width="1" height="33" fill="#c0c0c0"/>
<rect x="396" y="525" width="1" height="33" fill="#c0c0c0"/>
<rect x="404" y="524" width="1" height="34" fill="#c0c0c0"/>
<rect x="412" y="525" width="1" height="33" fill="#c0c0c0"/>
<rect x="420" y="527" width="1" height="31" fill="#c0c0c0"/>
<rect x="428" y="529" width="1" height="29" fill="#c0c0c0"/>
<rect x="436" y="530" width="1" height="28" fill="#c0c0c0"/>
<rect x="444" y="531" width="1" height="27" fill="#c0c0c0"/>
<rect x="452" y="529" width="1" height="29" fill="#c0c0c0"/>
<rect x="460" y="529" width="1" height="29" fill="#c0c0c0"/>
<rect x="468" y="528" width="1" height="30" fill="#c0c0c0"/>
<rect x="476" y="532" width="1" height="26" fill="#c0c0c0"/>
<rect x="484" y="534" width="1" height="24" fill="#c0c0c0"/>
<rect x="492" y="535" width="1" height="23" fill="#c0c0c0"/>
<rect x="500" y="537" width="1" height="21" fill="#c0c0c0"/>
<rect x="508" y="538" width="1" height="20" fill="#c0c0c0"/>
<rect x="516" y="541" width="1" height="17" fill="#c0c0c0"/>
<rect x="524" y="543" width="1" height="15" fill="#c0c0c0"/>
<rect x="532" y="542" width="1" height="16" fill="#c0c0c0"/>
<rect x="540" y="541" width="1" height="17" fill="#c0c0c0"/>
<rect x="548" y="540" width="1" height="18" fill="#c0c0c0"/>
<rect x="556" y="536" width="1" height="22" fill="#c0c0c0"/>
<rect x="564" y="529" width="1" height="29" fill="#c0c0c0"/>
<rect x="572" y="520" width="1" height="38" fill="#c0c0c0"/>
<rect x="580" y="521" width="1" height="37" fill="#c0c0c0"/>
<rect x="588" y="531" width="1" height="27" fill="#c0c0c0"/>
<rect x="596" y="535" width="1" height="23" fill="#c0c0c0"/>
<rect x="604" y="537" width="1" height="21" fill="#c0c0c0"/>
<rect x="612" y="539" width="1" height="19" fill="#c0c0c0"/>
<rect x="620" y="543" width="1" height="15" fill="#c0c0c0"/>
<rect x="628" y="549" width="1" height="9" fill="#c0c0c0"/>
<rect x="636" y="554" width="1" height="4" fill="#c0c0c0"/>
<rect x="644" y="553" width="1" height="5" fill="#c0c0c0"/>
<rect x="652" y="553" width="1" height="5" fill="#c0c0c0"/>
<rect x="660" y="556" width="1" height="2" fill="#c0c0c0"/>
<rect x="668" y="556" width="1" height="2" fill="#c0c0c0"/>
<rect x="676" y="556" width="1" height="2" fill="#c0c0c0"/>
<rect x="684" y="556" width="1" height="2" fill="#c0c0c0"/>
<rect x="692" y="556" width="1" height="2" fill="#c0c0c0"/>
<rect x="700" y="556" width="1" height="2" fill="#c0c0c0"/>
<rect x="708" y="556" width="1" height="2" fill="#c0c0c0"/>
<rect x="716" y="553" width="1" height="5" fill="#c0c0c0"/>
<rect x="724" y="549" width="1" height="9" fill="#c0c0c0"/>
<rect x="732" y="543" width="1" height="15" fill="#c0c0c0"/>
<rect x="740" y="539" width="1" height="19" fill="#c0c0c0"/>
<rect x="748" y="537" width="1" height="21" fill="#c0c0c0"/>
<rect x="756" y="533" width="1" height="25" fill="#c0c0c0"/>
<rect x="764" y="534" width="1" height="24" fill="#c0c0c0"/>
<rect x="772" y="536" width="1" height="22" fill="#c0c0c0"/>
<rect x="780" y="537" width="1" height="21" fill="#c0c0c0"/>
<rect x="788" y="538" width="1" height="20" fill="#c0c0c0"/>
<rect x="796" y="540" width="1" height="18" fill="#c0c0c0"/>
<rect x="804" y="539" width="1" height="19" fill="#c0c0c0"/>
<rect x="812" y="540" width="1" height="18" fill="#c0c0c0"/>
<rect x="820" y="542" width="1" height="16" fill="#c0c0c0"/>
<rect x="828" y="542" width="1" height="16" fill="#c0c0c0"/>
<rect x="836" y="542" width="1" height="16" fill="#c0c0c0"/>
<rect x="844" y="541" width="1" height="17" fill="#c0c0c0"/>
<rect x="852" y="540" width="1" height="18" fill="#c0c0c0"/>
<rect x="860" y="540" width="1" height="18" fill="#c0c0c0"/>
<rect x="868" y="536" width="1" height="22" fill="#c0c0c0"/>
<rect x="876" y="531" width="1" height="27" fill="#c0c0c0"/>
<rect x="884" y="523" width="1" height="35" fill="#c0c0c0"/>
<rect x="892" y="517" width="1" height="41" fill="#c0c0c0"/>
<rect x="900" y="512" width="1" height="46" fill="#c0c0c0"/>
<rect x="908" y="509" width="1" height="49" fill="#c0c0c0"/>
<rect x="916" y="510" width="1" height="48" fill="#c0c0c0"/>
<rect x="924" y="507" width="1" height="51" fill="#c0c0c0"/>
<rect x="932" y="505" width="1" height="53" fill="#c0c0c0"/>
<rect x="940" y="507" width="1" height="51" fill="#c0c0c0"/>
<rect x="948" y="503" width="1" height="55" fill="#c0c0c0"/>
<rect x="956" y="501" width="1" height="57" fill="#c0c0c0"/>
<rect x="964" y="493" width="1" height="65" fill="#c0c0c0"/>
<rect x="972" y="488" width="1" height="70" fill="#c0c0c0"/>
<rect x="980" y="485" width="1" height="73" fill="#c0c0c0"/>
<rect x="988" y="480" width="1" height="78" fill="#c0c0c0"/>
<rect x="996" y="480" width="1" height="78" fill="#c0c0c0"/>
<rect x="1004" y="488" width="1" height="70" fill="#c0c0c0"/>
<rect x="1012" y="498" width="1" height="60" fill="#c0c0c0"/>
<rect x="1020" y="508" width="1" height="50" fill="#c0c0c0"/>
<rect x="1028" y="517" width="1" height="41" fill="#c0c0c0"/>
<rect x="1036" y="527" width="1" height="31" fill="#c0c0c0"/>
<rect x="1044" y="535" width="1" height="23" fill="#c0c0c0"/>
<rect x="1052" y="535" width="1" height="23" fill="#c0c0c0"/>
<rect x="1060" y="538" width="1" height="20" fill="#c0c0c0"/>
<rect x="1068" y="540" width="1" height="18" fill="#c0c0c0"/>
<rect x="1076" y="542" width="1" height="16" fill="#c0c0c0"/>
<rect x="1084" y="545" width="1" height="13" fill="#c0c0c0"/>
<rect x="1092" y="547" width="1" height="11" fill="#c0c0c0"/>
<rect x="1100" y="552" width="1" height="6" fill="#c0c0c0"/>
<rect x="1108" y="555" width="1" height="3" fill="#c0c0c0"/>
<rect x="1116" y="557" width="1" height="1" fill="#c0c0c0"/>
<rect x="1124" y="558" width="1" height="1" fill="#c0c0c0"/>
<rect x="1132" y="558" width="1" height="4" fill="#c0c0c0"/>
<rect x="1140" y="558" width="1" height="6" fill="#c0c0c0"/>
<rect x="1148" y="558" width="1" height="10" fill="#c0c0c0"/>
<rect x="1156" y="558" width="1" height="15" fill="#c0c0c0"/>
<rect x="1164" y="558" width="1" height="18" fill="#c0c0c0"/>
<rect x="1172" y="558" width="1" height="22" fill="#c0c0c0"/>
<path d="M4 548h1v1h-1zM5 547h2v1h-2zM10 547h3v1h-3zM13 546h2v1h-2zM18 546h5v1h-5zM26 545h5v1h-5zM34 545h3v1h-3zM37 544h2v1h-2zM42 544h5v1h-5zM50 544h1v1h-1zM51 543h4v1h-4zM58 543h5v1h-5zM66 542h5v1h-5zM74 542h3v1h-3zM77 541h2v1h-2zM82 541h5v1h-5zM90 541h5v1h-5zM98 541h5v1h-5zM106 541h5v1h-5zM114 541h5v1h-5zM122 541h5v1h-5zM130 542h5v1h-5zM138 543h5v1h-5zM146 543h5v1h-5zM154 544h5v1h-5zM162 544h3v1h-3zM165 543h2v1h-2zM170 543h5v1h-5zM178 543h1v1h-1zM179 542h4v1h-4zM186 542h1v1h-1zM187 541h4v1h-4zM194 539h4v1h-4zM198 538h1v1h-1zM202 537h4v1h-4zM206 536h1v1h-1zM210 535h1v1h-1zM211 534h3v1h-3zM214 533h1v1h-1zM218 532h1v1h-1zM219 531h3v1h-3zM222 530h1v1h-1zM226 529h5v1h-5zM234 528h5v1h-5zM242 527h5v1h-5zM250 527h5v1h-5zM258 527h5v1h-5zM266 528h5v1h-5zM274 529h1v1h-1zM275 530h3v1h-3zM278 531h1v1h-1zM282 532h4v1h-4zM286 533h1v1h-1zM290 534h4v1h-4zM294 535h1v1h-1zM298 536h5v1h-5zM306 537h5v1h-5zM314 538h5v1h-5zM322 538h5v1h-5zM330 538h4v1h-4zM334 537h1v1h-1zM338 536h4v1h-4zM342 535h1v1h-1zM346 535h3v1h-3zM349 534h2v1h-2zM354 533h3v1h-3zM357 532h2v1h-2zM362 531h4v1h-4zM366 530h1v1h-1zM370 529h4v1h-4zM374 528h1v1h-1zM378 527h5v1h-5zM386 526h5v1h-5zM394 525h5v1h-5zM402 524h5v1h-5zM410 523h5v1h-5zM418 523h5v1h-5zM426 524h5v1h-5zM434 525h5v1h-5zM442 526h5v1h-5zM450 526h5v1h-5zM458 527h5v1h-5zM466 527h5v1h-5zM474 528h5v1h-5zM482 529h5v1h-5zM490 530h5v1h-5zM498 531h5v1h-5zM506 532h5v1h-5zM514 533h5v1h-5zM522 534h5v1h-5zM530 536h5v1h-5zM538 537h5v1h-5zM546 538h5v1h-5zM554 538h5v1h-5zM562 537h5v1h-5zM570 536h4v1h-4zM574 535h1v1h-1zM578 534h5v1h-5zM586 533h5v1h-5zM594 532h5v1h-5zM602 531h5v1h-5zM610 531h5v1h-5zM618 531h5v1h-5zM626 532h2v1h-2zM628 533h3v1h-3zM634 535h1v1h-1zM635 536h2v1h-2zM637 537h2v1h-2zM642 538h2v1h-2zM644 539h2v1h-2zM646 540h1v1h-1zM650 542h2v1h-2zM652 543h3v1h-3zM658 545h2v1h-2zM660 546h3v1h-3zM666 547h1v1h-1zM667 548h4v1h-4zM674 549h1v1h-1zM675 550h3v1h-3zM678 551h1v1h-1zM682 552h5v1h-5zM690 553h5v1h-5zM698 554h5v1h-5zM706 554h5v1h-5zM714 554h5v1h-5zM722 553h4v1h-4zM726 552h1v1h-1zM730 552h3v1h-3zM733 551h2v1h-2zM738 550h3v1h-3zM741 549h2v1h-2zM746 548h3v1h-3zM749 547h2v1h-2zM754 546h3v1h-3zM757 545h2v1h-2zM762 543h3v1h-3zM765 542h2v1h-2zM770 541h2v1h-2zM772 540h3v1h-3zM778 539h5v1h-5zM786 538h5v1h-5zM794 537h5v1h-5zM802 536h5v1h-5zM810 536h5v1h-5zM818 537h5v1h-5zM826 538h5v1h-5zM834 539h5v1h-5zM842 539h5v1h-5zM850 539h2v1h-2zM852 540h3v1h-3zM858 540h3v1h-3zM861 539h2v1h-2zM866 539h5v1h-5zM874 538h4v1h-4zM878 537h1v1h-1zM882 536h3v1h-3zM885 535h2v1h-2zM890 534h2v1h-2zM892 533h2v1h-2zM894 532h1v1h-1zM898 531h1v1h-1zM899 530h2v1h-2zM901 529h2v1h-2zM906 527h1v1h-1zM907 526h3v1h-3zM910 525h1v1h-1zM914 523h2v1h-2zM916 522h2v1h-2zM918 521h1v1h-1zM922 519h3v1h-3zM925 518h2v1h-2zM930 516h2v1h-2zM932 515h2v1h-2zM934 514h1v1h-1zM938 513h1v1h-1zM939 512h3v1h-3zM942 511h1v1h-1zM946 510h1v1h-1zM947 509h3v1h-3zM950 508h1v1h-1zM954 507h3v1h-3zM957 506h2v1h-2zM962 504h3v1h-3zM965 503h2v1h-2zM970 502h3v1h-3zM973 501h2v1h-2zM978 499h3v1h-3zM981 498h2v1h-2zM986 496h3v1h-3zM989 495h2v1h-2zM994 494h1v1h-1zM995 493h2v1h-2zM997 492h2v1h-2zM1002 491h3v1h-3zM1005 490h2v1h-2zM1010 490h5v1h-5zM1018 490h5v1h-5zM1026 491h2v1h-2zM1028 492h2v1h-2zM1030 493h1v1h-1zM1034 495h2v1h-2zM1036 496h2v1h-2zM1038 497h1v1h-1zM1042 500h2v1h-2zM1044 501h2v1h-2zM1046 502h1v1h-1zM1050 505h2v1h-2zM1052 506h1v1h-1zM1053 507h1v1h-1zM1054 508h1v1h-1zM1058 511h1v1h-1zM1059 512h1v1h-1zM1060 513h1v1h-1zM1061 514h1v1h-1zM1062 515h1v1h-1zM1066 518h1v1h-1zM1067 519h1v1h-1zM1068 520h1v1h-1zM1069 521h2v1h-2zM1074 524h1v1h-1zM1075 525h1v1h-1zM1076 526h2v1h-2zM1078 527h1v1h-1zM1082 529h1v1h-1zM1083 530h2v1h-2zM1085 531h2v1h-2zM1090 533h1v1h-1zM1091 534h1v1h-1zM1092 535h2v1h-2zM1094 536h1v1h-1zM1098 538h2v1h-2zM1100 539h3v1h-3zM1106 541h1v1h-1zM1107 542h2v1h-2zM1109 543h2v1h-2zM1114 544h2v1h-2zM1116 545h2v1h-2zM1118 546h1v1h-1zM1122 547h2v1h-2zM1124 548h3v1h-3zM1130 549h1v1h-1zM1131 550h3v1h-3zM1134 551h1v1h-1zM1138 552h2v1h-2zM1140 553h2v1h-2zM1142 554h1v1h-1zM1146 555h1v1h-1zM1147 556h3v1h-3zM1150 557h1v1h-1zM1154 558h1v1h-1zM1155 559h3v1h-3zM1158 560h1v1h-1zM1162 561h1v1h-1zM1163 562h2v1h-2zM1165 563h2v1h-2zM1170 565h1v1h-1zM1171 566h2v1h-2z" fill="#ff0000"/>
<line x1="5" y1="611.5" x2="1191" y2="611.5" stroke="#c0c0c0" stroke-dasharray="3 3"/>
<line x1="5" y1="640.5" x2="1191" y2="640.5" stroke="#c0c0c0" stroke-dasharray="3 3"/>
<path d="M4 613h1v1h-1zM5 612h12v1h-12zM17 613h7v1h-7zM24 612h7v1h-7zM31 613h3v1h-3zM34 614h6v1h-6zM40 613h5v1h-5zM45 612h8v1h-8zM53 611h3v1h-3zM56 610h3v1h-3zM59 609h6v1h-6zM65 610h7v1h-7zM72 609h14v1h-14zM86 610h2v1h-2zM88 611h2v1h-2zM90 612h2v1h-2zM92 613h2v1h-2zM94 612h2v1h-2zM96 611h3v1h-3zM99 610h2v1h-2zM101 611h1v1h-1zM102 612h1v1h-1zM103 613h1v1h-1zM104 614h1v1h-1zM105 615h1v1h-1zM106 616h1v1h-1zM107 617h1v1h-1zM108 618h1v1h-1zM109 619h2v1h-2zM111 620h2v1h-2zM113 621h2v1h-2zM115 622h1v1h-1zM116 623h4v1h-4zM120 624h4v1h-4zM124 625h2v1h-2zM126 624h4v1h-4zM130 623h8v1h-8zM138 622h3v1h-3zM141 621h1v1h-1zM142 620h2v1h-2zM144 619h1v1h-1zM145 618h1v1h-1zM146 617h1v1h-1zM147 616h1v1h-1zM148 615h1v1h-1zM149 613h1v2h-1zM150 612h1v1h-1zM151 611h1v1h-1zM152 610h1v1h-1zM153 608h1v2h-1zM154 607h1v1h-1zM155 606h1v1h-1zM156 605h10v1h-10zM166 606h1v1h-1zM167 607h1v1h-1zM168 608h2v1h-2zM170 609h1v1h-1zM171 610h1v1h-1zM172 611h12v1h-12zM184 610h5v1h-5zM189 609h2v1h-2zM191 608h2v1h-2zM193 607h2v1h-2zM195 606h12v1h-12zM207 605h4v1h-4zM211 604h5v1h-5zM216 603h9v1h-9zM225 604h3v1h-3zM228 604h1v2h-1zM229 606h1v3h-1zM230 609h1v2h-1zM231 611h1v2h-1zM232 613h1v3h-1zM233 616h1v2h-1zM234 618h1v2h-1zM235 620h1v3h-1zM236 623h2v1h-2zM238 624h4v1h-4zM242 625h4v1h-4zM246 624h2v1h-2zM248 623h3v1h-3zM251 622h6v1h-6zM257 623h15v1h-15zM272 622h6v1h-6zM278 621h7v1h-7zM285 620h2v1h-2zM287 619h3v1h-3zM290 618h3v1h-3zM293 617h3v1h-3zM296 616h3v1h-3zM299 615h11v1h-11zM310 614h4v1h-4zM314 613h6v1h-6zM320 612h6v1h-6zM326 611h4v1h-4zM330 610h3v1h-3zM333 609h2v1h-2zM335 608h2v1h-2zM337 607h2v1h-2zM339 606h5v1h-5zM344 605h13v1h-13zM357 606h1v1h-1zM358 607h2v1h-2zM360 608h1v1h-1zM361 609h1v1h-1zM362 610h1v1h-1zM363 611h1v1h-1zM364 612h13v1h-13zM377 613h7v1h-7zM384 612h6v1h-6zM390 611h7v1h-7zM397 610h3v1h-3zM400 609h3v1h-3zM403 608h2v1h-2zM405 609h2v1h-2zM407 610h1v1h-1zM408 611h1v1h-1zM409 612h2v1h-2zM411 613h1v1h-1zM412 614h2v1h-2zM414 615h2v1h-2zM416 616h2v1h-2zM418 617h2v1h-2zM420 618h4v1h-4zM424 617h7v1h-7zM431 616h9v1h-9zM440 615h5v1h-5zM445 614h2v1h-2zM447 613h2v1h-2zM449 612h2v1h-2zM451 611h18v1h-18zM469 612h1v2h-1zM470 614h1v1h-1zM471 615h1v1h-1zM472 616h1v2h-1zM473 618h1v1h-1zM474 619h1v1h-1zM475 620h1v2h-1zM476 622h2v1h-2zM478 621h4v1h-4zM482 620h5v1h-5zM487 619h8v1h-8zM495 620h4v1h-4zM499 621h6v1h-6zM505 620h5v1h-5zM510 621h2v1h-2zM512 622h3v1h-3zM515 623h10v1h-10zM525 622h2v1h-2zM527 621h1v1h-1zM528 620h1v1h-1zM529 619h2v1h-2zM531 618h1v1h-1zM532 617h10v1h-10zM542 616h4v1h-4zM546 615h3v1h-3zM549 614h1v1h-1zM550 613h2v1h-2zM552 612h1v1h-1zM553 611h1v1h-1zM554 610h2v1h-2zM556 609h1v1h-1zM557 608h2v1h-2zM559 607h2v1h-2zM561 606h2v1h-2zM563 605h3v1h-3zM566 604h4v1h-4zM570 603h2v1h-2zM572 603h1v2h-1zM573 605h1v2h-1zM574 607h1v2h-1zM575 609h1v2h-1zM576 611h1v1h-1zM577 612h1v2h-1zM578 614h1v2h-1zM579 616h1v2h-1zM580 618h1v2h-1zM581 620h1v1h-1zM582 621h1v2h-1zM583 623h1v1h-1zM584 624h1v2h-1zM585 626h1v1h-1zM586 627h1v2h-1zM587 629h1v1h-1zM588 630h1v1h-1zM589 629h2v1h-2zM591 628h2v1h-2zM593 627h1v1h-1zM594 626h2v1h-2zM596 625h4v1h-4zM600 624h14v1h-14zM614 625h3v1h-3zM617 626h3v1h-3zM620 627h2v1h-2zM622 628h3v1h-3zM625 629h2v1h-2zM627 630h5v1h-5zM632 629h5v1h-5zM637 628h2v1h-2zM639 627h1v1h-1zM640 626h2v1h-2zM642 625h1v1h-1zM643 624h6v1h-6zM649 625h6v1h-6zM655 626h4v1h-4zM659 627h3v1h-3zM662 626h4v1h-4zM666 625h6v1h-6zM672 624h9v1h-9zM681 625h23v1h-23zM704 624h5v1h-5zM709 623h3v1h-3zM712 622h2v1h-2zM714 621h3v1h-3zM717 620h4v1h-4zM721 619h4v1h-4zM725 618h2v1h-2zM727 617h2v1h-2zM729 616h2v1h-2zM731 615h12v1h-12zM743 616h4v1h-4zM747 617h3v1h-3zM750 616h4v1h-4zM754 615h3v1h-3zM757 616h2v1h-2zM759 617h1v1h-1zM760 618h2v1h-2zM762 619h1v1h-1zM763 620h1v1h-1zM764 621h6v1h-6zM770 622h31v1h-31zM801 621h7v1h-7zM808 620h6v1h-6zM814 621h3v1h-3zM817 622h2v1h-2zM819 623h3v1h-3zM822 622h3v1h-3zM825 621h2v1h-2zM827 620h11v1h-11zM838 619h4v1h-4zM842 618h4v1h-4zM846 619h4v1h-4zM850 620h4v1h-4zM854 619h2v1h-2zM856 618h3v1h-3zM859 617h2v1h-2zM861 616h3v1h-3zM864 615h2v1h-2zM866 614h3v1h-3zM869 613h2v1h-2zM871 612h2v1h-2zM873 611h2v1h-2zM875 610h3v1h-3zM878 609h2v1h-2zM880 608h2v1h-2zM882 607h2v1h-2zM884 606h12v1h-12zM896 605h7v1h-7zM903 606h4v1h-4zM907 607h3v1h-3zM910 608h1v1h-1zM911 609h2v1h-2zM913 610h1v1h-1zM914 611h2v1h-2zM916 612h1v1h-1zM917 611h3v1h-3zM920 610h3v1h-3zM923 609h10v1h-10zM933 610h1v1h-1zM934 611h2v1h-2zM936 612h1v1h-1zM937 613h2v1h-2zM939 614h1v1h-1zM940 615h1v1h-1zM941 614h1v1h-1zM942 613h2v1h-2zM944 612h1v1h-1zM945 611h2v1h-2zM947 610h1v1h-1zM948 609h1v1h-1zM949 610h3v1h-3zM952 611h4v1h-4zM956 612h1v1h-1zM957 611h1v1h-1zM958 610h2v1h-2zM960 609h1v1h-1zM961 608h1v1h-1zM962 607h2v1h-2zM964 606h2v1h-2zM966 607h3v1h-3zM969 608h3v1h-3zM972 609h10v1h-10zM982 608h4v1h-4zM986 607h4v1h-4zM990 608h2v1h-2zM992 609h2v1h-2zM994 610h2v1h-2zM996 611h1v1h-1zM997 612h1v1h-1zM998 613h1v1h-1zM999 614h1v2h-1zM1000 616h1v1h-1zM1001 617h1v1h-1zM1002 618h1v1h-1zM1003 619h1v2h-1zM1004 621h3v1h-3zM1007 622h2v1h-2zM1009 623h2v1h-2zM1011 624h3v1h-3zM1014 625h6v1h-6zM1020 626h11v1h-11zM1031 627h2v1h-2zM1033 628h3v1h-3zM1036 629h9v1h-9zM1045 628h1v1h-1zM1046 627h1v1h-1zM1047 626h1v1h-1zM1048 625h2v1h-2zM1050 624h1v1h-1zM1051 623h1v1h-1zM1052 622h2v1h-2zM1054 623h3v1h-3zM1057 624h3v1h-3zM1060 625h3v1h-3zM1063 624h11v1h-11zM1074 625h10v1h-10zM1084 626h11v1h-11zM1095 627h2v1h-2zM1097 628h3v1h-3zM1100 629h2v1h-2zM1102 628h7v1h-7zM1109 627h9v1h-9zM1118 628h3v1h-3zM1121 629h3v1h-3zM1124 630h19v1h-19zM1143 631h3v1h-3zM1146 632h2v1h-2zM1148 633h4v1h-4zM1152 634h4v1h-4zM1156 635h6v1h-6zM1162 636h11v1h-11z" fill="#1e90ff"/>
<rect x="1192" y="5" width="2" height="1" fill="#000"/>
<rect x="1192" y="38" width="2" height="1" fill="#000"/>
<rect x="1192" y="71" width="2" height="1" fill="#000"/>
<rect x="1192" y="104" width="2" height="1" fill="#000"/>
<rect x="1192" y="137" width="2" height="1" fill="#000"/>
<rect x="1192" y="170" width="2" height="1" fill="#000"/>
<rect x="1192" y="203" width="2" height="1" fill="#000"/>
<rect x="1192" y="236" width="2" height="1" fill="#000"/>
<rect x="1192" y="269" width="2" height="1" fill="#000"/>
<rect x="1192" y="302" width="2" height="1" fill="#000"/>
<rect x="1192" y="335" width="2" height="1" fill="#000"/>
<rect x="1192" y="368" width="2" height="1" fill="#000"/>
<rect x="1192" y="401" width="2" height="1" fill="#000"/>
<rect x="1192" y="434" width="2" height="1" fill="#000"/>
<rect x="1192" y="467" width="2" height="1" fill="#000"/>
<rect x="1192" y="474" width="1" height="1" fill="#000"/>
<rect x="1192" y="557" width="2" height="1" fill="#000"/>
<rect x="1192" y="586" width="1" height="1" fill="#000"/>
<rect x="1192" y="590" width="1" height="1" fill="#000"/>
<rect x="1192" y="661" width="1" height="1" fill="#000"/>
<rect x="4" y="663" width="1" height="3" fill="#000"/>
<rect x="68" y="663" width="1" height="3" fill="#000"/>
<rect x="132" y="663" width="1" height="3" fill="#000"/>
<rect x="196" y="663" width="1" height="3" fill="#000"/>
<rect x="260" y="663" width="1" height="3" fill="#000"/>
<rect x="324" y="663" width="1" height="3" fill="#000"/>
<rect x="388" y="663" width="1" height="3" fill="#000"/>
<rect x="452" y="663" width="1" height="3" fill="#000"/>
<rect x="516" y="663" width="1" height="3" fill="#000"/>
<rect x="580" y="663" width="1" height="3" fill="#000"/>
<rect x="644" y="663" width="1" height="3" fill="#000"/>
<rect x="708" y="663" width="1" height="3" fill="#000"/>
<rect x="772" y="663" width="1" height="3" fill="#000"/>
<rect x="836" y="663" width="1" height="3" fill="#000"/>
<rect x="900" y="663" width="1" height="3" fill="#000"/>
<rect x="964" y="663" width="1" height="3" fill="#000"/>
<rect x="1028" y="663" width="1" height="3" fill="#000"/>
<rect x="1092" y="663" width="1" height="3" fill="#000"/>
<rect x="1156" y="663" width="1" height="3" fill="#000"/>
<path d="M7 8h7.4l-3.7 4z" fill="#000" shape-rendering="auto"/>
</svg>
<div id="title">多空转折点1945</div>
<div class="t" style="left:1196px;top:1px;">2081.30</div>
<div class="t" style="left:1196px;top:34px;">2062.05</div>
<div class="t" style="left:1196px;top:67px;">2042.80</div>
<div class="t" style="left:1196px;top:100px;">2023.55</div>
<div class="t" style="left:1196px;top:133px;">2004.30</div>
<div class="t" style="left:1196px;top:166px;">1985.05</div>
<div class="t" style="left:1196px;top:199px;">1965.80</div>
<div class="t" style="left:1196px;top:232px;">1946.55</div>
<div class="t" style="left:1196px;top:265px;">1927.30</div>
<div class="t" style="left:1196px;top:298px;">1908.05</div>
<div class="t" style="left:1196px;top:331px;">1888.80</div>
<div class="t" style="left:1196px;top:364px;">1870.10</div>
<div class="t" style="left:1196px;top:397px;">1850.85</div>
<div class="t" style="left:1196px;top:430px;">1831.60</div>
<div class="t" style="left:1196px;top:463px;">1812.35</div>
<div class="t" style="left:1194.2px;top:475px;">30.866</div>
<div class="t" style="left:1194.2px;top:553px;">0.00</div>
<div class="t" style="left:1194.3px;top:576px;">-10.567</div>
<div class="t" style="left:1195px;top:591px;letter-spacing:-0.6px">100</div>
<div class="t" style="left:1193.2px;top:607px;letter-spacing:-0.5px">70</div>
<div class="t" style="left:1193.2px;top:636px;letter-spacing:-0.5px">30</div>
<div class="t" style="left:1194.5px;top:651px;">0</div>
<div class="t" style="left:3px;top:667px;">8 Feb 2022</div>
<div class="t" style="left:67.5px;top:667px;">9 Feb 20:00</div>
<div class="t" style="left:131.5px;top:667px;">11 Feb 04:00</div>
<div class="t" style="left:195.5px;top:667px;">14 Feb 12:00</div>
<div class="t" style="left:259.5px;top:667px;">15 Feb 20:00</div>
<div class="t" style="left:323.5px;top:667px;">17 Feb 04:00</div>
<div class="t" style="left:387.5px;top:667px;">18 Feb 12:00</div>
<div class="t" style="left:451.5px;top:667px;">21 Feb 23:00</div>
<div class="t" style="left:515.5px;top:667px;">23 Feb 04:00</div>
<div class="t" style="left:579.5px;top:667px;">24 Feb 12:00</div>
<div class="t" style="left:643.5px;top:667px;">27 Feb 23:00</div>
<div class="t" style="left:707.5px;top:667px;">1 Mar 04:00</div>
<div class="t" style="left:771.5px;top:667px;">2 Mar 12:00</div>
<div class="t" style="left:835.5px;top:667px;">3 Mar 20:00</div>
<div class="t" style="left:899.5px;top:667px;">7 Mar 04:00</div>
<div class="t" style="left:963.5px;top:667px;">8 Mar 12:00</div>
<div class="t" style="left:1027.5px;top:667px;">9 Mar 20:00</div>
<div class="t" style="left:1091.5px;top:667px;">11 Mar 04:00</div>
<div class="t" style="left:1155.5px;top:667px;">14 Mar 12:00</div>
<div class="b" style="top:139px;background:#ff0000">2000.00</div>
<div class="b" style="top:182px;background:#ff0000">1975.00</div>
<div class="b" style="top:225px;background:#000">1950.39</div>
<div class="b" style="top:233px;background:#00cc00">1945.00</div>
<div class="b" style="top:285px;background:#3349e0">1915.00</div>
<div class="b" style="top:327px;background:#3349e0">1890.00</div>
<div class="t" style="left:18.6px;top:5px;letter-spacing:-0.19px">XAUUSD-,H4</div>
<div class="t" style="left:81.7px;top:5px;letter-spacing:-0.26px">1952.56 1954.01 1949.94 1950.39</div>
<div class="t" style="left:7px;top:477px;letter-spacing:-0.1px">MACD(12,26,9) -8.684 -3.331</div>
<div class="t" style="left:6.6px;top:593px;letter-spacing:-0.15px">RSI(14) 34.9660</div>
</div>
</body></html>
